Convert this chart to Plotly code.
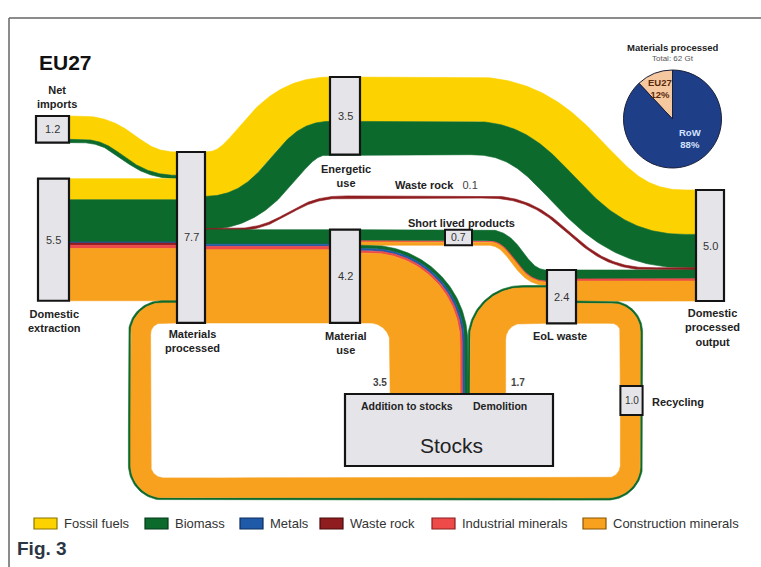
import numpy as np
import plotly.graph_objects as go

W, H = 761, 567
K = 22.2  # pixels per Gt

# ---------------- data (Gt) ----------------
materials = ["Fossil fuels", "Biomass", "Metals", "Waste rock",
             "Industrial minerals", "Construction minerals"]
colors = ["#fcd200", "#0d6a2d", "#1f5aa8", "#8f1c1f", "#ee4a4a", "#f7a11f"]
edge_colors = ["#8c7500", "#05391a", "#0c2d5e", "#4a0a0a", "#8a1e1e", "#8a5400"]

# flow composition by material: fossil, biomass, metals, waste rock, industrial, construction
net_imports = [1.05, 0.15, 0.0, 0.0, 0.0, 0.0]
domestic_extraction = [0.95, 1.90, 0.05, 0.10, 0.15, 2.35]
energetic_use = [2.0, 1.5, 0.0, 0.0, 0.0, 0.0]
waste_rock = [0.0, 0.0, 0.0, 0.1, 0.0, 0.0]
material_use = [0.0, 0.65, 0.10, 0.0, 0.15, 3.30]
short_lived = [0.0, 0.50, 0.0, 0.0, 0.05, 0.15]
addition_to_stocks = [0.0, 0.15, 0.10, 0.0, 0.10, 3.15]
demolition = [0.0, 0.10, 0.0, 0.0, 0.0, 1.60]
eol_to_output = [0.0, 0.40, 0.0, 0.0, 0.10, 0.90]
recycling = [0.0, 0.10, 0.0, 0.0, 0.0, 0.90]

node_values = {"NI": 1.2, "DE": 5.5, "MP": 7.7, "EU": 3.5, "MU": 4.2,
               "EoL": 2.4, "DPO": 5.0}
slp_value = 0.7
rec_value = 1.0
add_value = 3.5
dem_value = 1.7
wr_value = 0.1

pie_labels = ["EU27", "RoW"]
pie_shares = [12, 88]
total_processed = 62

# ---------------- layout geometry ----------------
node_geom = {  # x0, x1, top (px)
    "NI": (36, 69, 116),
    "DE": (38, 69, 152 + 1.2 * K),
    "MP": (177, 205, 152),
    "EU": (330, 360, 77),
    "MU": (330, 360, 152 + 3.5 * K),
    "EoL": (547, 576, 270),
    "DPO": (696, 724, 190),
}


def total(c):
    return float(sum(c))


def slot(node, values, idx):
    top = node_geom[node][2] + sum(values[:idx]) * K
    return top, top + values[idx] * K


def mid(node, values, idx):
    a, b = slot(node, values, idx)
    return (a + b) / 2


# ---------------- centre-line helpers ----------------
def seg(p, q, step=1.5):
    p, q = np.asarray(p, float), np.asarray(q, float)
    n = max(int(np.hypot(*(q - p)) / step), 2)
    t = np.linspace(0, 1, n)[:, None]
    return p + (q - p) * t


def hbez(p, q, n=120):
    p, q = np.asarray(p, float), np.asarray(q, float)
    mx = (p[0] + q[0]) / 2
    c1, c2 = np.array([mx, p[1]]), np.array([mx, q[1]])
    t = np.linspace(0, 1, n)[:, None]
    return ((1 - t) ** 3) * p + 3 * ((1 - t) ** 2) * t * c1 + 3 * (1 - t) * t * t * c2 + (t ** 3) * q


def rounded(pts, radii, step=1.0):
    pts = np.asarray(pts, float)
    out = []
    cur = pts[0]
    for i in range(1, len(pts) - 1):
        p0, p1, p2 = pts[i - 1], pts[i], pts[i + 1]
        d1 = (p1 - p0) / np.hypot(*(p1 - p0))
        d2 = (p2 - p1) / np.hypot(*(p2 - p1))
        theta = np.arccos(np.clip(np.dot(d1, d2), -1, 1))
        r = radii[i - 1]
        t = r * np.tan(theta / 2)
        a, b = p1 - d1 * t, p1 + d2 * t
        cross = d1[0] * d2[1] - d1[1] * d2[0]
        nrm = np.array([-d1[1], d1[0]]) * np.sign(cross)
        c = a + nrm * r
        ang0 = np.arctan2(a[1] - c[1], a[0] - c[0])
        sweep = theta * np.sign(cross)
        n = max(int(abs(sweep) * r / step), 10)
        angs = ang0 + np.linspace(0, sweep, n)
        out.append(seg(cur, a))
        out.append(np.c_[c[0] + r * np.cos(angs), c[1] + r * np.sin(angs)])
        cur = b
    out.append(seg(cur, pts[-1]))
    return np.vstack(out)


def chain(*parts):
    pts = np.vstack(parts)
    keep = np.r_[True, np.hypot(*np.diff(pts, axis=0).T) > 1e-6]
    return pts[keep]


def ribbon_traces(center, comp):
    tan = np.gradient(center, axis=0)
    tan /= np.hypot(tan[:, 0], tan[:, 1])[:, None]
    normal = np.c_[tan[:, 1], -tan[:, 0]]  # left of travel (screen y down)
    width = total(comp) * K
    off = width / 2
    traces = []
    for i, v in enumerate(comp):
        if v <= 0:
            continue
        a, b = off, off - v * K
        off = b
        ea = center + normal * a
        eb = center + normal * b
        poly = np.vstack([ea, eb[::-1], ea[:1]])
        traces.append(go.Scatter(
            x=poly[:, 0], y=poly[:, 1], mode="lines", fill="toself",
            fillcolor=colors[i], line=dict(color=colors[i], width=0.6),
            hoverinfo="skip", showlegend=False))
    return traces


fig = go.Figure()

# ---------------- flows ----------------
x_ni1 = node_geom["NI"][1]
x_de1 = node_geom["DE"][1]
x_mp0, x_mp1 = node_geom["MP"][0], node_geom["MP"][1]
x_eu0, x_eu1 = node_geom["EU"][0], node_geom["EU"][1]
x_mu0, x_mu1 = node_geom["MU"][0], node_geom["MU"][1]
x_eol0, x_eol1 = node_geom["EoL"][0], node_geom["EoL"][1]
x_dpo0 = node_geom["DPO"][0]

mp_in = [total(net_imports), total(domestic_extraction), total(recycling)]
mp_out = [total(energetic_use), total(material_use)]
mu_out = [total(short_lived), total(addition_to_stocks)]
eol_in = [total(short_lived), total(demolition)]
eol_out = [total(eol_to_output), total(recycling)]
dpo_in = [total(energetic_use), total(waste_rock), total(eol_to_output)]

y_eu = node_geom["EU"][2] + total(energetic_use) * K / 2

flows = []

# net imports -> materials processed
ni_y = node_geom["NI"][2] + total(net_imports) * K / 2
flows.append((chain(seg((x_ni1, ni_y), (80, ni_y)),
                    hbez((80, ni_y), (x_mp0, mid("MP", mp_in, 0)))), net_imports))

# domestic extraction -> materials processed
flows.append((seg((x_de1, mid("MP", mp_in, 1)), (x_mp0, mid("MP", mp_in, 1))), domestic_extraction))

# materials processed -> energetic use -> domestic processed output
flows.append((chain(hbez((x_mp1, mid("MP", mp_out, 0)), (x_eu0, y_eu)),
                    seg((x_eu0, y_eu), (472, y_eu)),
                    hbez((472, y_eu), (684, mid("DPO", dpo_in, 0))),
                    seg((684, mid("DPO", dpo_in, 0)), (x_dpo0, mid("DPO", dpo_in, 0)))),
              energetic_use))

# waste rock line
y_wr0 = slot("MP", mp_out, 0)[1]
flows.append((chain(seg((x_mp1, y_wr0), (232, y_wr0)),
                    hbez((232, y_wr0), (345, 197)),
                    seg((345, 197), (488, 197)),
                    hbez((488, 197), (650, mid("DPO", dpo_in, 1))),
                    seg((650, mid("DPO", dpo_in, 1)), (x_dpo0, mid("DPO", dpo_in, 1)))),
              waste_rock))

# materials processed -> material use
flows.append((seg((x_mp1, mid("MP", mp_out, 1)), (x_mu0, mid("MP", mp_out, 1))), material_use))

# material use -> short lived products -> EoL waste
y_slp = mid("MU", mu_out, 0)
flows.append((chain(seg((x_mu1, y_slp), (488, y_slp)),
                    hbez((488, y_slp), (x_eol0, mid("EoL", eol_in, 0)))), short_lived))

# material use -> addition to stocks
add_cx = 429
stocks_top = 394
flows.append((rounded([(x_mu1, mid("MU", mu_out, 1)), (add_cx, mid("MU", mu_out, 1)),
                       (add_cx, stocks_top)], [59]), addition_to_stocks))

# stocks -> demolition -> EoL waste
dem_cx = add_cx + total(addition_to_stocks) * K / 2 + total(demolition) * K / 2
flows.append((rounded([(dem_cx, stocks_top), (dem_cx, mid("EoL", eol_in, 1)),
                       (x_eol0, mid("EoL", eol_in, 1))], [35]), demolition))

# EoL waste -> domestic processed output
flows.append((hbez((x_eol1, mid("EoL", eol_out, 0)), (x_dpo0, mid("DPO", dpo_in, 2))), eol_to_output))

# EoL waste -> recycling loop -> materials processed
rec_cx_right, rec_cy_bottom, rec_cx_left = 631.5, 489, 139.5
flows.append((rounded([(x_eol1, mid("EoL", eol_out, 1)), (rec_cx_right, mid("EoL", eol_out, 1)),
                       (rec_cx_right, rec_cy_bottom), (rec_cx_left, rec_cy_bottom),
                       (rec_cx_left, mid("MP", mp_in, 2)), (x_mp0, mid("MP", mp_in, 2))],
                      [20, 24, 24, 22]), recycling))

for center, comp in flows:
    for tr in ribbon_traces(center, comp):
        fig.add_trace(tr)

# ---------------- node boxes ----------------
shapes = []
BOX_FILL, BOX_LINE = "#e5e5e9", "#141414"


def box(x0, y0, x1, y1, w=2.2):
    shapes.append(dict(type="rect", x0=x0, x1=x1, y0=y0, y1=y1, xref="x", yref="y",
                       fillcolor=BOX_FILL, line=dict(color=BOX_LINE, width=w), layer="above"))


annotations = []
FONT = "Liberation Sans, Arial, Helvetica, sans-serif"


def label(text, x, y, size=11, color="#222222", xanchor="center", family=FONT):
    annotations.append(dict(text=text, x=x, y=y, xref="x", yref="y", showarrow=False,
                            xanchor=xanchor, yanchor="middle",
                            font=dict(family=family, size=size, color=color)))


for key, v in node_values.items():
    x0, x1, top = node_geom[key]
    box(x0, top, x1, top + v * K)
    label(f"{v:.1f}", (x0 + x1) / 2, top + v * K / 2, size=11, color="#333333")

# short lived products box on its flow
slp_a, slp_b = slot("MU", mu_out, 0)
box(445, slp_a, 472, slp_b, w=2)
label(f"{slp_value:.1f}", 458.5, (slp_a + slp_b) / 2, size=10.5, color="#333333")

# recycling box on the right leg of the loop
rw = rec_value * K / 2
box(rec_cx_right - rw, 386, rec_cx_right + rw, 415, w=2)
label(f"{rec_value:.1f}", rec_cx_right, 400.5, size=10, color="#333333")

# stocks
box(345, stocks_top, 553, 466, w=2.2)
label("Stocks", 451, 445, size=21, color="#222222")
label("<b>Addition to stocks</b>", 407, 405.5, size=10.5)
label("<b>Demolition</b>", 500, 405.5, size=10.5)
label(f"<b>{add_value:.1f}</b>", 380, 382, size=10, color="#444444")
label(f"<b>{dem_value:.1f}</b>", 518, 382, size=10, color="#444444")

# node names
label("<b>EU27</b>", 37, 62, size=21, color="#111111", xanchor="left")
label("<b>Net<br>imports</b>", 57, 96.5, size=11)
label("<b>Domestic<br>extraction</b>", 54, 321, size=11)
label("<b>Materials<br>processed</b>", 192, 341, size=11)
label("<b>Energetic<br>use</b>", 346, 175.5, size=11)
label("<b>Material<br>use</b>", 346, 343, size=11)
label(f"<b>Waste rock</b>   <span style='color:#444'>{wr_value:.1f}</span>", 393, 185,
      size=11, xanchor="left")
label("<b>Short lived products</b>", 461, 223, size=11)
label("<b>EoL waste</b>", 560, 336, size=11)
label("<b>Domestic<br>processed<br>output</b>", 712, 327.5, size=11)
label("<b>Recycling</b>", 650, 402, size=11, xanchor="left")

# pie title
label("<b>Materials processed</b>", 673, 47, size=9.5, color="#222222")
label(f"Total: {total_processed} Gt", 673, 58, size=8, color="#555555")

# legend
legend_x = [34, 145, 240, 320, 432, 583]
for i, name in enumerate(materials):
    x0 = legend_x[i]
    shapes.append(dict(type="rect", x0=x0, x1=x0 + 23, y0=518, y1=529, xref="x", yref="y",
                       fillcolor=colors[i], line=dict(color=edge_colors[i], width=1.2),
                       layer="above"))
    label(name, x0 + 28, 523.5, size=13, color="#333333", xanchor="left")

label("<b>Fig. 3</b>", 15, 548, size=19, color="#2b3645", xanchor="left",
      family="Liberation Sans Narrow, Arial Narrow, Liberation Sans, sans-serif")

# frame
shapes.append(dict(type="line", x0=9, x1=9, y0=18, y1=H, xref="x", yref="y",
                   line=dict(color="#666666", width=1.5), layer="above"))
shapes.append(dict(type="line", x0=9, x1=W, y0=18, y1=18, xref="x", yref="y",
                   line=dict(color="#666666", width=1.5), layer="above"))

# ---------------- pie ----------------
# first slice ends at 12 o'clock, sweeping back counter-clockwise from there
pie_cx, pie_cy, pie_r = 672.5, 119, 49
first_angle = 360.0 * pie_shares[0] / sum(pie_shares)
fig.add_trace(go.Pie(
    labels=pie_labels, values=pie_shares, sort=False, direction="clockwise",
    rotation=-first_angle,
    domain=dict(x=[(pie_cx - pie_r) / W, (pie_cx + pie_r) / W],
                y=[1 - (pie_cy + pie_r) / H, 1 - (pie_cy - pie_r) / H]),
    marker=dict(colors=["#f5c8a0", "#1e3f88"], line=dict(color="#1a1f3a", width=1)),
    textinfo="none", hoverinfo="skip", showlegend=False))

# slice labels
pie_text_pos = [(660, 88), (690, 138)]
pie_text_col = ["#5a2a0c", "#d4e3ff"]
for lab, share, (tx, ty), col in zip(pie_labels, pie_shares, pie_text_pos, pie_text_col):
    label(f"<b>{lab}<br>{share}%</b>", tx, ty, size=9.5, color=col)

fig.update_layout(
    width=W, height=H, margin=dict(l=0, r=0, t=0, b=0),
    paper_bgcolor="white", plot_bgcolor="white", showlegend=False,
    xaxis=dict(range=[0, W], visible=False, fixedrange=True),
    yaxis=dict(range=[H, 0], visible=False, fixedrange=True),
    shapes=shapes, annotations=annotations,
)

fig.write_html("out.html")
